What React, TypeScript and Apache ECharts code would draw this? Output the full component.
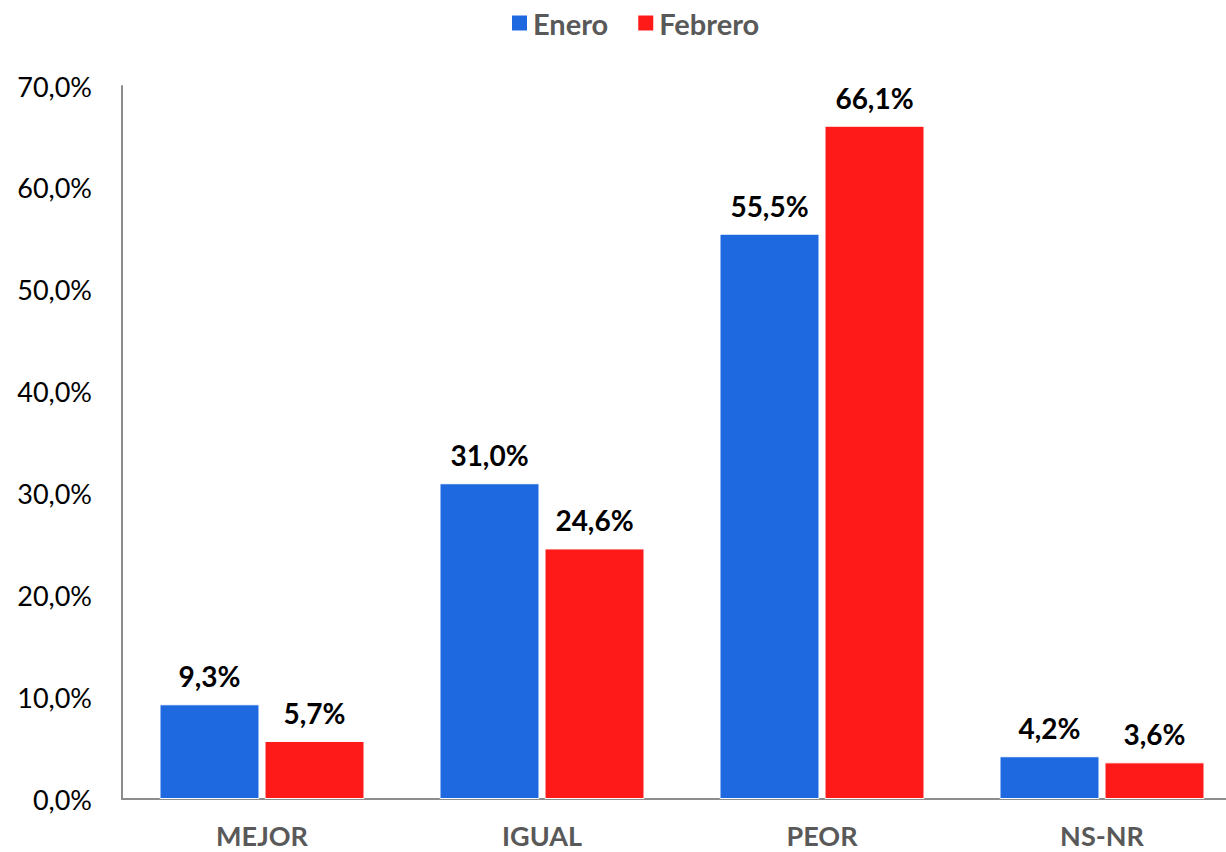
import React, { useEffect, useRef } from "react";
import * as echarts from "echarts";

const categories = ["MEJOR", "IGUAL", "PEOR", "NS-NR"];
const enero = [9.3, 31.0, 55.5, 4.2];
const febrero = [5.7, 24.6, 66.1, 3.6];
const seriesNames = ["Enero", "Febrero"];

const FONT = "Lato, 'Noto Sans', sans-serif";
const fmt = (v: number) => v.toFixed(1).replace(".", ",") + "%";

export default function App() {
  const ref = useRef<HTMLDivElement>(null);
  useEffect(() => {
    if (!ref.current) return;
    const chart = echarts.init(ref.current, undefined, { renderer: "svg" });
    const label = {
      show: true,
      position: "top" as const,
      distance: 14,
      fontFamily: FONT,
      fontSize: 28,
      fontWeight: "bold" as const,
      color: "#000",
      formatter: (p: any) => fmt(p.value),
    };
    chart.setOption({
      animation: false,
      legend: {
        top: 3,
        left: 505,
        itemWidth: 17,
        itemHeight: 17,
        itemGap: 28,
        icon: "rect",
        textStyle: { fontFamily: FONT, fontSize: 29, fontWeight: "bold", color: "#595959", lineHeight: 30 },
        data: seriesNames,
      },
      grid: { left: 122, right: 0, top: 86, bottom: 53, containLabel: false },
      xAxis: {
        type: "category",
        data: categories,
        axisLine: { lineStyle: { color: "#8c8c8c", width: 2 } },
        axisTick: { show: false },
        axisLabel: {
          fontFamily: FONT,
          fontSize: 27,
          lineHeight: 27,
          fontWeight: "bold",
          color: "#595959",
          margin: 23,
        },
      },
      yAxis: {
        type: "value",
        min: 0,
        max: 70,
        interval: 10,
        axisLine: { show: true, lineStyle: { color: "#8c8c8c", width: 2 } },
        axisTick: { show: false },
        splitLine: { show: false },
        axisLabel: {
          fontFamily: FONT,
          fontSize: 27,
          color: "#000",
          margin: 30,
          formatter: (v: number) => fmt(v),
        },
      },
      series: [
        {
          name: seriesNames[0],
          type: "bar",
          data: enero,
          barWidth: 100,
          barGap: "5%",
          itemStyle: { color: "#1f69e0", borderColor: "#ffffff", borderWidth: 1 },
          label,
        },
        {
          name: seriesNames[1],
          type: "bar",
          data: febrero,
          barWidth: 100,
          barGap: "5%",
          itemStyle: { color: "#ff1a1a", borderColor: "#ffffff", borderWidth: 1 },
          label,
        },
      ],
    });
    return () => chart.dispose();
  }, []);
  return (
    <div style={{ position: "absolute", left: 0, top: 0, width: 1226, height: 852, overflow: "hidden", background: "#fff" }}>
      <div ref={ref} style={{ width: 1242, height: 852 }} />
    </div>
  );
}
